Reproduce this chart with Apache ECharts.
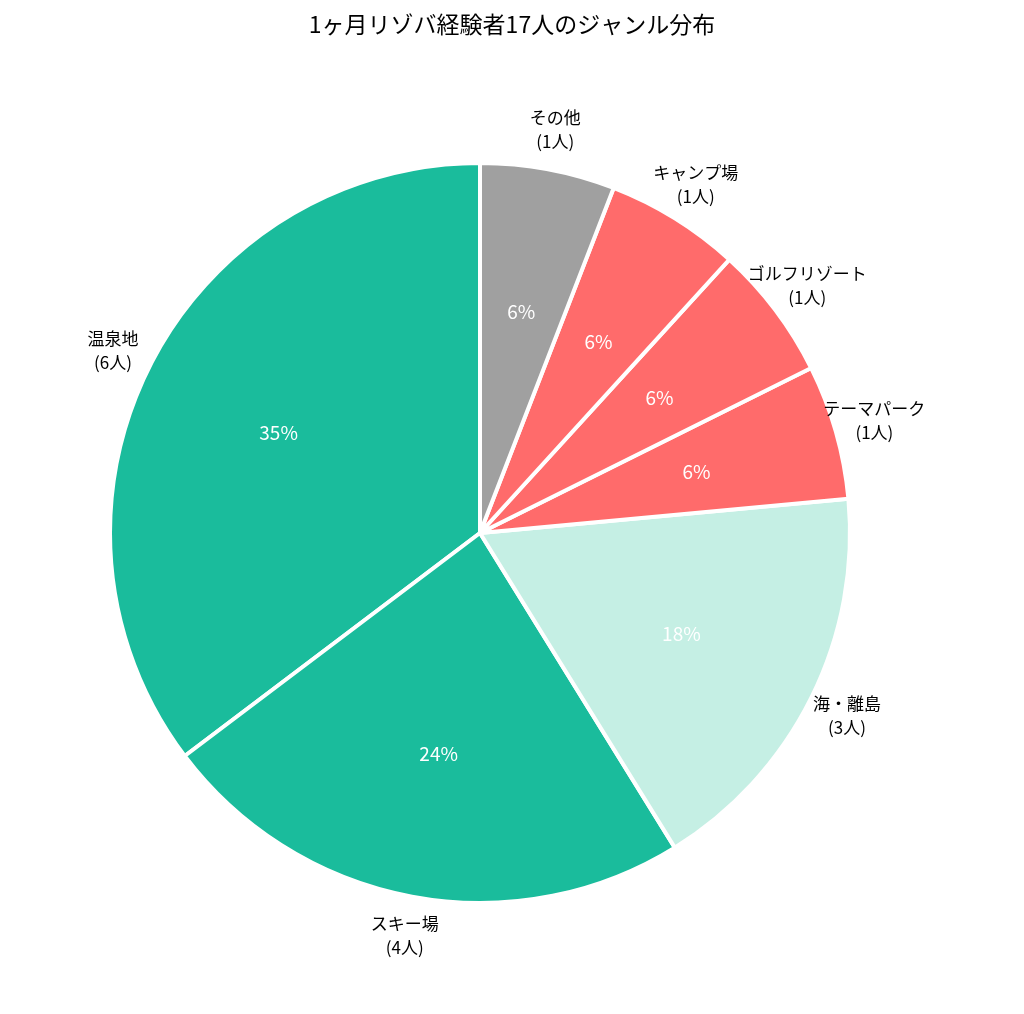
<!DOCTYPE html>
<html><head><meta charset="utf-8">
<script src="https://cdn.jsdelivr.net/npm/echarts@6/dist/echarts.min.js"></script>
<style>html,body{margin:0;background:#fff}#c{width:1024px;height:1014px}</style>
</head><body><div id="c"></div>
<script>
const genres = ["温泉地", "スキー場", "海・離島", "テーマパーク", "ゴルフリゾート", "キャンプ場", "その他"];
const counts = [6, 4, 3, 1, 1, 1, 1];
const colors = ["#1abc9c", "#1abc9c", "#c5efe4", "#ff6b6b", "#ff6b6b", "#ff6b6b", "#a0a0a0"];
const total = counts.reduce((a, b) => a + b, 0);

const R = 370;
const font = '"Noto Sans CJK JP", sans-serif';
const center = [480, 533];

const base = {
  type: "pie", center, startAngle: 90, clockwise: false,
  labelLine: { show: false }, animation: false
};

const chart = echarts.init(document.getElementById("c"));
chart.setOption({
  title: {
    text: "1ヶ月リゾバ経験者17人のジャンル分布", left: "center", top: 8,
    textStyle: { fontFamily: font, fontSize: 23, fontWeight: "normal", color: "#000" }
  },
  series: [
    Object.assign({}, base, {
      radius: [0, R],
      itemStyle: { borderColor: "#fff", borderWidth: 4 },
      label: { show: false },
      data: genres.map((g, i) => ({ name: g, value: counts[i], itemStyle: { color: colors[i] } }))
    }),
    Object.assign({}, base, {
      radius: [0, R * 1.2], silent: true,
      itemStyle: { color: "transparent" },
      label: {
        position: "inside", color: "#fff", fontSize: 19, fontFamily: font,
        formatter: p => Math.round(p.value / total * 100) + "%"
      },
      data: genres.map((g, i) => ({ name: g, value: counts[i] }))
    }),
    Object.assign({}, base, {
      radius: [0, R * 2.2], silent: true,
      itemStyle: { color: "transparent" },
      label: {
        position: "inside", color: "#000", fontSize: 17, fontFamily: font, lineHeight: 24,
        formatter: p => p.name + "\n(" + p.value + "人)"
      },
      data: genres.map((g, i) => ({
        name: g, value: counts[i],
        label: { align: (i === 0 || i === 1) ? "right" : "left" }
      }))
    })
  ]
});
</script></body></html>
